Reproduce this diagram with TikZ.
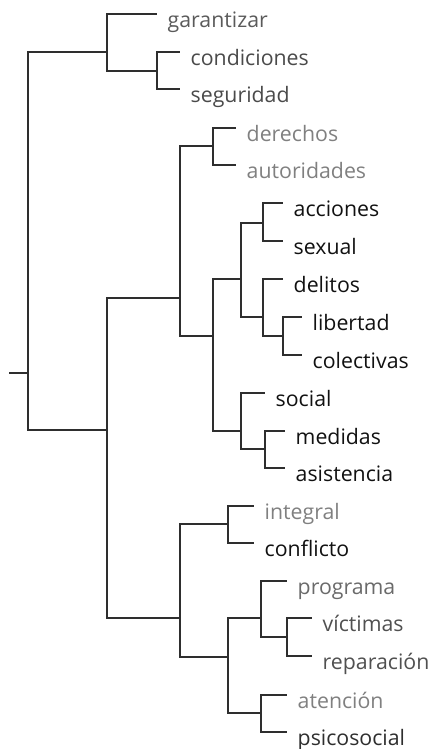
\documentclass[tikz,border=0pt]{standalone}
\usepackage{fontspec}
\setmainfont{Open Sans}
\definecolor{lnc}{HTML}{2E2E2E}
\definecolor{cA}{HTML}{5A5A5A}
\definecolor{cB}{HTML}{4A4A4A}
\definecolor{cL}{HTML}{808080}
\definecolor{cK}{HTML}{111111}
\definecolor{cP}{HTML}{6A6A6A}
\definecolor{cV}{HTML}{505050}
\definecolor{cS}{HTML}{2E2E2E}
\begin{document}
\begin{tikzpicture}[x=1pt,y=-1pt,
  edge/.style={draw=lnc,line width=1.6pt},
  lbl/.style={anchor=base west,inner sep=0pt,font=\fontsize{21.3}{24}\selectfont}]
\useasboundingbox (0,0) rectangle (433,749);
% internal nodes
\coordinate (stub) at (9,373);
\coordinate (R) at (28,373);
\coordinate (A) at (107,52);
\coordinate (B) at (157,71);
\coordinate (C) at (107,430);
\coordinate (D) at (180,298);
\coordinate (E) at (180,618);
\coordinate (F) at (213,146);
\coordinate (G) at (213,336);
\coordinate (H) at (241,279);
\coordinate (I) at (241,431);
\coordinate (J) at (263,223);
\coordinate (K) at (263,317);
\coordinate (L) at (283,336);
\coordinate (M) at (265,449);
\coordinate (N) at (228,524);
\coordinate (O) at (228,657);
\coordinate (P) at (261,618);
\coordinate (Q) at (261,713);
\coordinate (S) at (287,637);
% leaf ends
\coordinate (garantizar) at (157,14);
\coordinate (condiciones) at (180,52);
\coordinate (seguridad) at (180,89);
\coordinate (derechos) at (236,128);
\coordinate (autoridades) at (236,165);
\coordinate (acciones) at (283,203);
\coordinate (sexual) at (283,241);
\coordinate (delitos) at (283,279);
\coordinate (libertad) at (302,317);
\coordinate (colectivas) at (302,355);
\coordinate (social) at (265,393);
\coordinate (medidas) at (285,431);
\coordinate (asistencia) at (285,468);
\coordinate (integral) at (254,506);
\coordinate (conflicto) at (254,543);
\coordinate (programa) at (287,581);
\coordinate (victimas) at (312,618);
\coordinate (reparacion) at (312,656);
\coordinate (atencion) at (287,695);
\coordinate (psicosocial) at (287,732);
% edges
\draw[edge] (stub) -- (R);
\foreach \p/\c in {R/A,R/C,A/garantizar,A/B,B/condiciones,B/seguridad,
  C/D,C/E,D/F,D/G,F/derechos,F/autoridades,G/H,G/I,H/J,H/K,J/acciones,J/sexual,
  K/delitos,K/L,L/libertad,L/colectivas,I/social,I/M,M/medidas,M/asistencia,
  E/N,E/O,N/integral,N/conflicto,O/P,O/Q,P/programa,P/S,S/victimas,S/reparacion,
  Q/atencion,Q/psicosocial}
  \draw[edge] (\p) |- (\c);
% labels
\node[lbl,text=cA] (t1) at ([xshift=10.5pt,yshift=-13.5pt]garantizar) {garantizar};
\node[lbl,text=cB] (t2) at ([xshift=10.5pt,yshift=-13.5pt]condiciones) {condiciones};
\node[lbl,text=cB] (t3) at ([xshift=10.5pt,yshift=-13.5pt]seguridad) {seguridad};
\node[lbl,text=cL] (t4) at ([xshift=10.5pt,yshift=-13.5pt]derechos) {derechos};
\node[lbl,text=cL] (t5) at ([xshift=10.5pt,yshift=-13.5pt]autoridades) {autoridades};
\node[lbl,text=cK] (t6) at ([xshift=10.5pt,yshift=-13.5pt]acciones) {acciones};
\node[lbl,text=cK] (t7) at ([xshift=10.5pt,yshift=-13.5pt]sexual) {sexual};
\node[lbl,text=cK] (t8) at ([xshift=10.5pt,yshift=-13.5pt]delitos) {delitos};
\node[lbl,text=cK] (t9) at ([xshift=10.5pt,yshift=-13.5pt]libertad) {libertad};
\node[lbl,text=cK] (t10) at ([xshift=10.5pt,yshift=-13.5pt]colectivas) {colectivas};
\node[lbl,text=cK] (t11) at ([xshift=10.5pt,yshift=-13.5pt]social) {social};
\node[lbl,text=cK] (t12) at ([xshift=10.5pt,yshift=-13.5pt]medidas) {medidas};
\node[lbl,text=cK] (t13) at ([xshift=10.5pt,yshift=-13.5pt]asistencia) {asistencia};
\node[lbl,text=cL] (t14) at ([xshift=10.5pt,yshift=-13.5pt]integral) {integral};
\node[lbl,text=cK] (t15) at ([xshift=10.5pt,yshift=-13.5pt]conflicto) {conflicto};
\node[lbl,text=cP] (t16) at ([xshift=10.5pt,yshift=-13.5pt]programa) {programa};
\node[lbl,text=cV] (t17) at ([xshift=10.5pt,yshift=-13.5pt]victimas) {víctimas};
\node[lbl,text=cV] (t18) at ([xshift=10.5pt,yshift=-13.5pt]reparacion) {reparación};
\node[lbl,text=cL] (t19) at ([xshift=10.5pt,yshift=-13.5pt]atencion) {atención};
\node[lbl,text=cS] (t20) at ([xshift=10.5pt,yshift=-13.5pt]psicosocial) {psicosocial};
\end{tikzpicture}
\end{document}
